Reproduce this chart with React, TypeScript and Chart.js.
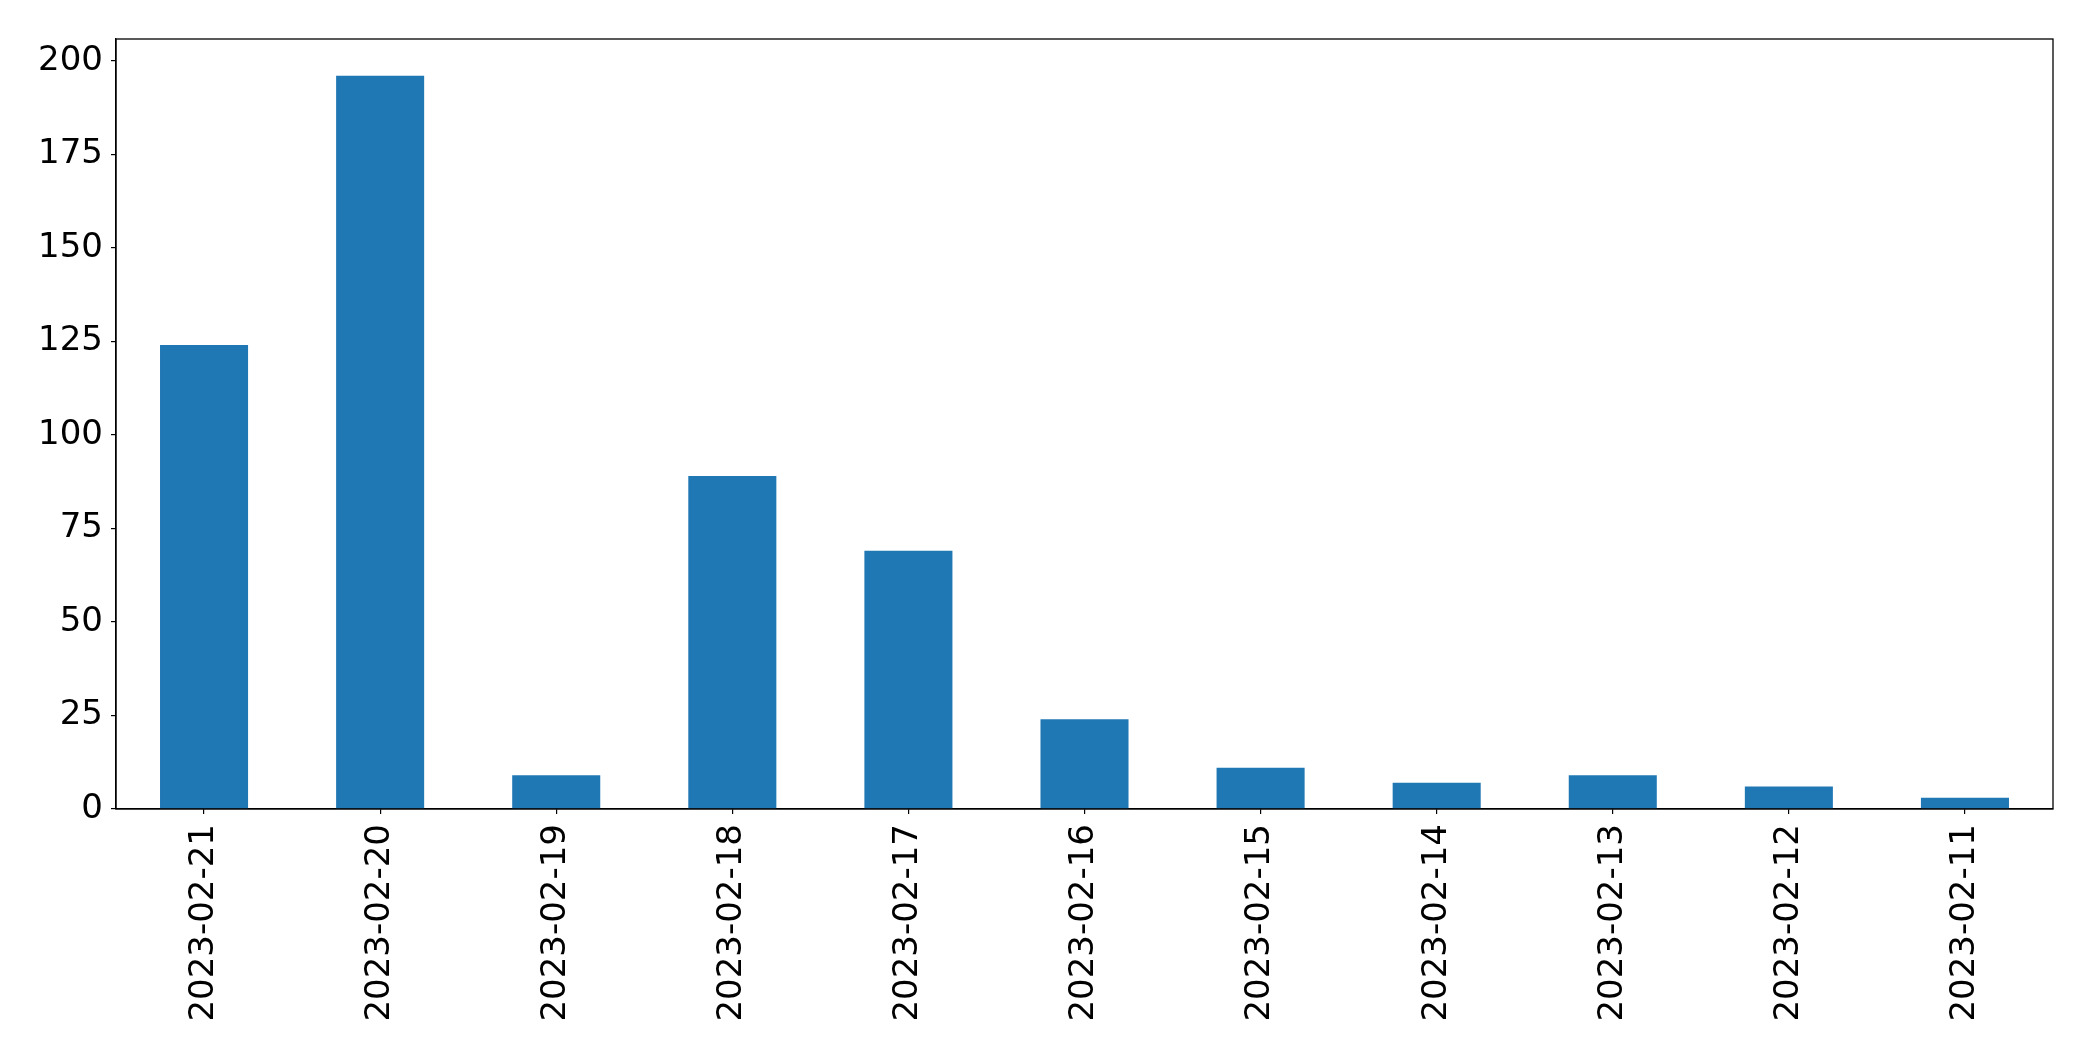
import React, { useEffect, useRef } from "react";
import { Chart, registerables } from "chart.js";

Chart.register(...registerables);

const categories: string[] = [
  "2023-02-21",
  "2023-02-20",
  "2023-02-19",
  "2023-02-18",
  "2023-02-17",
  "2023-02-16",
  "2023-02-15",
  "2023-02-14",
  "2023-02-13",
  "2023-02-12",
  "2023-02-11",
];
const counts: number[] = [124, 196, 9, 89, 69, 24, 11, 7, 9, 6, 3];
const yMin = 0;
const yMax = 205.8;
const yStep = 25;

const framePlugin = {
  id: "frame",
  afterDraw(chart: any) {
    const { ctx, chartArea } = chart;
    ctx.save();
    ctx.strokeStyle = "#000";
    ctx.lineWidth = 1.3;
    ctx.strokeRect(chartArea.left, chartArea.top, chartArea.right - chartArea.left, chartArea.bottom - chartArea.top);
    ctx.restore();
  },
};

export default function App() {
  const ref = useRef<HTMLCanvasElement | null>(null);
  useEffect(() => {
    document.body.style.margin = "0";
    document.body.style.overflow = "hidden";
    const canvas = ref.current!;
    const font = { family: "'DejaVu Sans', sans-serif", size: 34 };
    const chart = new Chart(canvas, {
      type: "bar",
      data: {
        labels: categories,
        datasets: [
          {
            data: counts,
            backgroundColor: "#1f77b4",
            barPercentage: 0.5,
            categoryPercentage: 1,
          },
        ],
      },
      options: {
        animation: false,
        responsive: false,
        devicePixelRatio: 1,
        layout: { padding: { top: 39, right: 40, left: 0, bottom: 0 } },
        plugins: { legend: { display: false }, tooltip: { enabled: false } },
        scales: {
          x: {
            offset: true,
            grid: { display: true, offset: false, drawOnChartArea: false, drawTicks: true, tickLength: 5, color: "#000", lineWidth: 1.2 },
            border: { display: true, color: "#000", width: 1.3 },
            ticks: { color: "#000", font, maxRotation: 90, minRotation: 90, padding: 10, autoSkip: false },
            afterFit: (s: any) => {
              s.height = 252;
            },
          },
          y: {
            min: yMin,
            max: yMax,
            grid: { display: true, drawOnChartArea: false, drawTicks: true, tickLength: 5, color: "#000", lineWidth: 1.2 },
            border: { display: true, color: "#000", width: 1.3 },
            ticks: { color: "#000", font, stepSize: yStep, includeBounds: false, padding: 8 },
            afterFit: (s: any) => {
              s.width = 116;
            },
          },
        },
      },
      plugins: [framePlugin],
    });
    return () => chart.destroy();
  }, []);
  return (
    <div style={{ position: "absolute", left: 0, top: 0, width: 2093, height: 1061 }}>
      <canvas ref={ref} width={2093} height={1061} style={{ width: 2093, height: 1061 }} />
    </div>
  );
}
